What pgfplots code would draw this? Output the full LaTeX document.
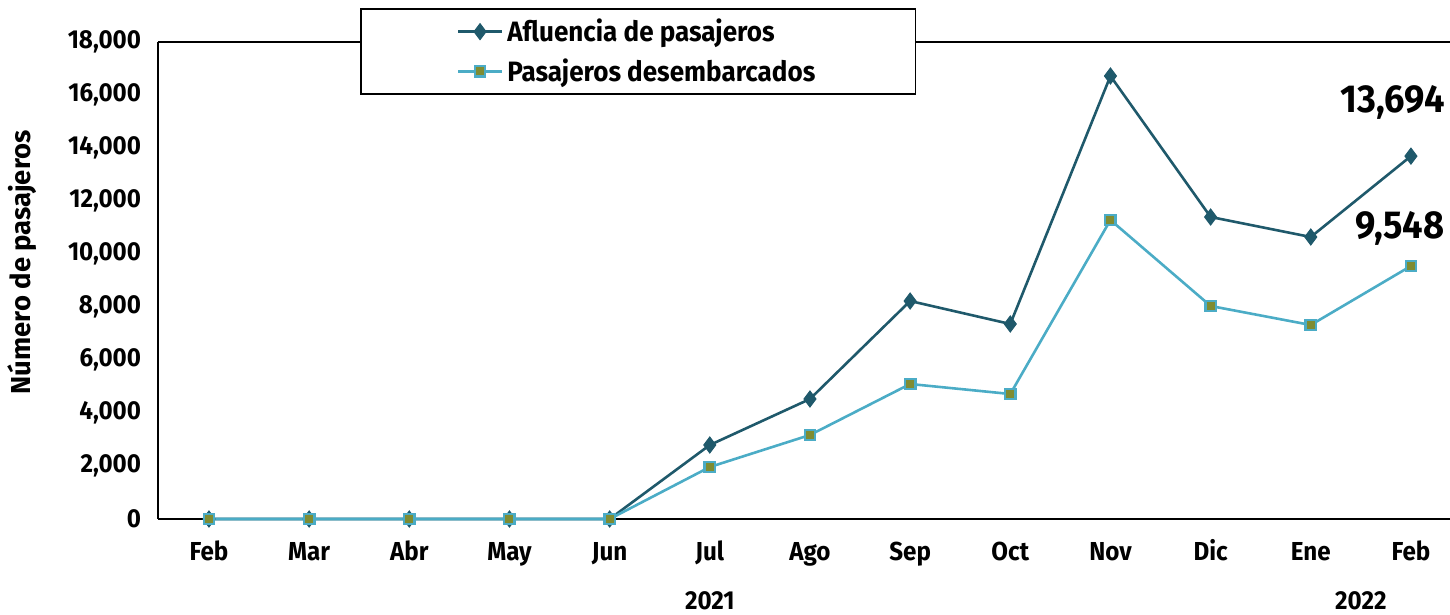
\documentclass[border=0pt]{standalone}
\usepackage{pgfplots}
\pgfplotsset{compat=1.18}
\usepackage{fontspec}
\setmainfont{Liberation Sans}
\newfontfamily\ylabfont{Fira Sans}
\newfontfamily\tickfont[FakeStretch=0.93]{Fira Sans}
\definecolor{darkteal}{HTML}{1F596B}
\definecolor{lightblue}{HTML}{4BACC6}
\definecolor{olive}{HTML}{7F8C32}
\begin{document}
\begin{tikzpicture}
\useasboundingbox (-79pt,-48pt) rectangle (646pt,259.5pt);
\begin{axis}[
  at={(0,0)}, anchor=south west,
  scale only axis, width=646pt, height=238.5pt,
  xmin=-0.509, xmax=12.39, ymin=0, ymax=18000,
  axis x line*=bottom, axis y line*=left,
  axis line style={line width=1.2pt, -},
  xtick={0,...,12},
  xticklabels={Feb,Mar,Abr,May,Jun,Jul,Ago,Sep,Oct,Nov,Dic,Ene,Feb},
  ytick={0,2000,...,18000},
  scaled y ticks=false,
  major tick length=0pt,
  tick label style={font=\tickfont\bfseries\fontsize{13}{15}\selectfont},
  /pgf/number format/assume math mode=true,
  yticklabel style={/pgf/number format/fixed, /pgf/number format/1000 sep={,}, xshift=-5pt},
  xticklabel style={yshift=-9pt, text height=1.6ex, text depth=0.3ex},
  ylabel={Número de pasajeros},
  ylabel style={font=\ylabfont\bfseries\fontsize{13.7}{15}\selectfont, at={(axis description cs:-0.1053,0.538)}, anchor=center},
  clip=false,
  legend style={at={(axis description cs:0.1563,1.0713)}, anchor=north west,
    draw=black, line width=0.8pt, fill=white, inner xsep=48pt, inner ysep=3pt,
    font=\tickfont\bfseries\fontsize{14}{16}\selectfont,
    row sep=3pt, cells={anchor=west}},
  legend image code/.code={\draw[mark repeat=2,mark phase=2] plot coordinates {(0pt,0pt)(11pt,0pt)(22pt,0pt)};},
  after end axis/.code={
    \draw[line width=1.2pt] (rel axis cs:0,1) -- (rel axis cs:1,1);
  },
]
\addplot[color=darkteal, line width=1.3pt, mark=diamond*, mark size=4pt, mark options={fill=darkteal, draw=darkteal, line width=0.5pt}]
coordinates {(0,0)(1,0)(2,0)(3,0)(4,0)(5,2792)(6,4528)(7,8226)(8,7358)(9,16717)(10,11396)(11,10642)(12,13694)};
\addlegendentry{Afluencia de pasajeros}
\addplot[color=lightblue, line width=1.3pt, mark=square*, mark size=2.6pt, mark options={fill=olive, draw=lightblue, line width=1.2pt}]
coordinates {(0,0)(1,0)(2,0)(3,0)(4,0)(5,1962)(6,3170)(7,5094)(8,4717)(9,11283)(10,8038)(11,7321)(12,9548)};
\addlegendentry{Pasajeros desembarcados}
\node[inner sep=0pt, font=\tickfont\bfseries\fontsize{13}{15}\selectfont] at (axis cs:5,0) [yshift=-41pt] {2021};
\node[inner sep=0pt, font=\tickfont\bfseries\fontsize{13}{15}\selectfont] at (axis cs:11.5,0) [yshift=-41pt] {2022};
\node[font=\tickfont\bfseries\fontsize{19.5}{22}\selectfont] at (axis cs:12,13694) [xshift=-9pt, yshift=27pt] {13,694};
\node[font=\tickfont\bfseries\fontsize{19.5}{22}\selectfont] at (axis cs:12,9548) [xshift=-5.5pt, yshift=19pt] {9,548};
\end{axis}
\end{tikzpicture}
\end{document}
